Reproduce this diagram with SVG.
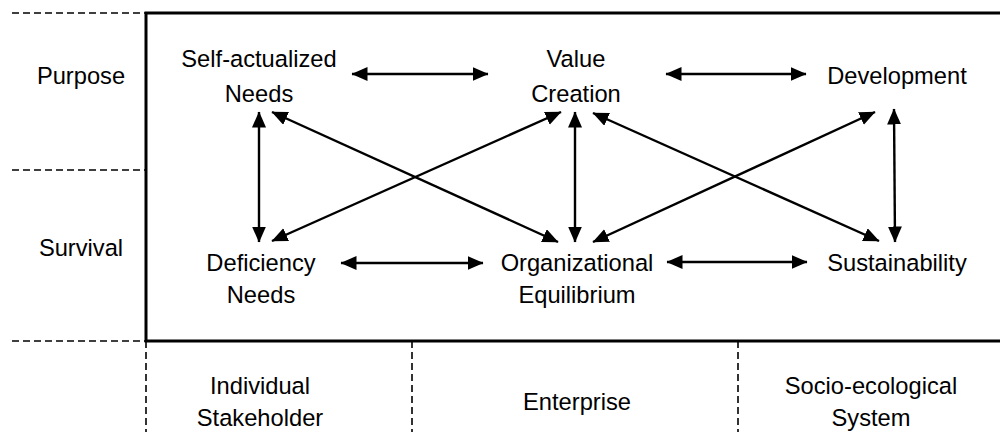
<svg xmlns="http://www.w3.org/2000/svg" width="1000" height="432" viewBox="0 0 1000 432">
  <style>
    text { font-family: "Liberation Sans", Arial, sans-serif; font-size: 23.7px; fill: #000; text-anchor: middle; }
    .frame { fill: none; stroke: #000; stroke-width: 3; }
    .dash { fill: none; stroke: #000; stroke-width: 1.6; stroke-dasharray: 7 4; }
    .link { fill: none; stroke: #000; stroke-width: 2.4; marker-start: url(#head); marker-end: url(#head); }
  </style>
  <defs>
    <marker id="head" markerUnits="userSpaceOnUse" markerWidth="17" markerHeight="15" refX="15.5" refY="7" orient="auto-start-reverse">
      <path d="M0,0 L16,7 L0,14 z" fill="#000"/>
    </marker>
  </defs>

  <rect width="1000" height="432" fill="#fff"/>

  <!-- frame and grid lines -->
  <g id="frame">
    <path class="frame" d="M1002,13 H146 V341 H1002"/>
    <path class="dash" d="M12,13 H146 M12,170 H146 M12,341 H146"/>
    <path class="dash" d="M146,341 V432 M412,341 V432 M738,341 V432"/>
  </g>

  <!-- row and column labels -->
  <g id="row-purpose"><text x="81" y="84">Purpose</text></g>
  <g id="row-survival"><text x="81" y="256">Survival</text></g>
  <g id="col-individual"><text x="260" y="394">Individual</text><text x="260" y="426">Stakeholder</text></g>
  <g id="col-enterprise"><text x="577" y="410">Enterprise</text></g>
  <g id="col-system"><text x="871" y="394">Socio-ecological</text><text x="871" y="426">System</text></g>

  <!-- nodes -->
  <g id="self-actualized-needs"><text x="259" y="67">Self-actualized</text><text x="259" y="102">Needs</text></g>
  <g id="value-creation"><text x="576" y="67">Value</text><text x="576" y="102">Creation</text></g>
  <g id="development"><text x="897" y="84">Development</text></g>
  <g id="deficiency-needs"><text x="261" y="271">Deficiency</text><text x="261" y="303">Needs</text></g>
  <g id="organizational-equilibrium"><text x="577" y="271">Organizational</text><text x="577" y="303">Equilibrium</text></g>
  <g id="sustainability"><text x="897" y="271">Sustainability</text></g>

  <!-- connectors -->
  <g id="connectors">
    <line class="link" x1="352" y1="74" x2="488" y2="74"/>
    <line class="link" x1="666" y1="74" x2="806" y2="74"/>
    <line class="link" x1="341" y1="263" x2="483" y2="263"/>
    <line class="link" x1="667" y1="262" x2="807" y2="262"/>
    <line class="link" x1="259" y1="112" x2="259" y2="242"/>
    <line class="link" x1="575" y1="112" x2="575" y2="242"/>
    <line class="link" x1="894" y1="109" x2="895" y2="242"/>
    <line class="link" x1="272" y1="112" x2="558" y2="242"/>
    <line class="link" x1="272" y1="241" x2="561" y2="112"/>
    <line class="link" x1="593" y1="113" x2="879" y2="241"/>
    <line class="link" x1="875" y1="112" x2="593" y2="242"/>
  </g>
</svg>
